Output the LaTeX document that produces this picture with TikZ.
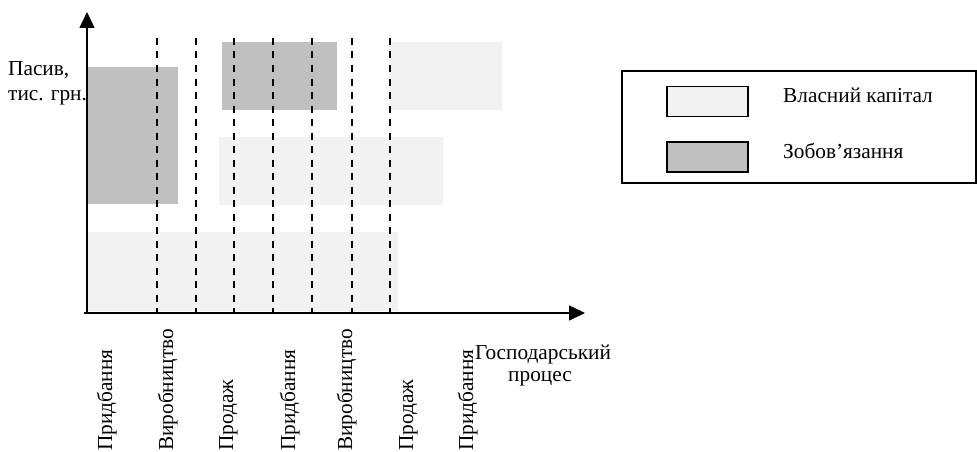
\documentclass[tikz,border=0pt]{standalone}
\usepackage{fontspec}
\setmainfont{Liberation Serif}
\usetikzlibrary{arrows.meta}
\definecolor{lightfill}{HTML}{F2F2F2}
\definecolor{darkfill}{HTML}{C0C0C0}
\begin{document}
\begin{tikzpicture}[x=1pt,y=-1pt,
  lbl/.style={font=\fontsize{21.3}{23}\selectfont, inner sep=0pt},
  vlbl/.style={lbl, rotate=90, anchor=base west},
  guide/.style={line width=1.6pt, dash pattern=on 7pt off 6.5pt},
  axis/.style={line width=1.6pt, -{Triangle[length=16pt,width=15pt]}},
  swatch/.style={draw=black, line width=1.2pt, minimum width=81pt, minimum height=30pt, inner sep=0pt}
]
\useasboundingbox (0,0) rectangle (977,452);
% bars
\fill[lightfill] (87,232) rectangle (398,311);
\fill[lightfill] (219,137) rectangle (443,205);
\fill[lightfill] (390,42) rectangle (502,110);
\fill[darkfill] (87,67) rectangle (178,204);
\fill[darkfill] (222,42) rectangle (337,110);
% dashed guides
\foreach \x in {157,196,234,273,312,352,390} \draw[guide] (\x,38) -- (\x,313);
% axes
\coordinate (O) at (87,313);
\coordinate (ytip) at (87,12);
\coordinate (xstart) at (84,313);
\coordinate (xtip) at (585,313);
\draw[axis] (O) -- (ytip);
\draw[axis] (xstart) -- (xtip);
% axis labels
\node[lbl, anchor=base west] (ylab1) at (8,76) {Пасив,};
\node[lbl, anchor=base west] (ylab2) at (8,100) {тис. грн.};
\node[lbl, anchor=base] (xlab1) at (543,359) {Господарський};
\node[lbl, anchor=base] (xlab2) at (540,381) {процес};
% stage labels
\node[vlbl] (s1) at (112,451) {Придбання};
\node[vlbl] (s2) at (173,451) {Виробництво};
\node[vlbl] (s3) at (233,451) {Продаж};
\node[vlbl] (s4) at (295,451) {Придбання};
\node[vlbl] (s5) at (352,451) {Виробництво};
\node[vlbl] (s6) at (413,451) {Продаж};
\node[vlbl] (s7) at (473,451) {Придбання};
% legend
\draw[line width=1.6pt] (622,71) rectangle (976,183);
\node[swatch, fill=lightfill] (sw1) at (707.5,101.5) {};
\node[swatch, fill=darkfill] (sw2) at (707.5,157) {};
\node[lbl, anchor=base west] (t1) at (783,102) {Власний капітал};
\node[lbl, anchor=base west] (t2) at (783,158) {Зобов’язання};
\end{tikzpicture}
\end{document}
